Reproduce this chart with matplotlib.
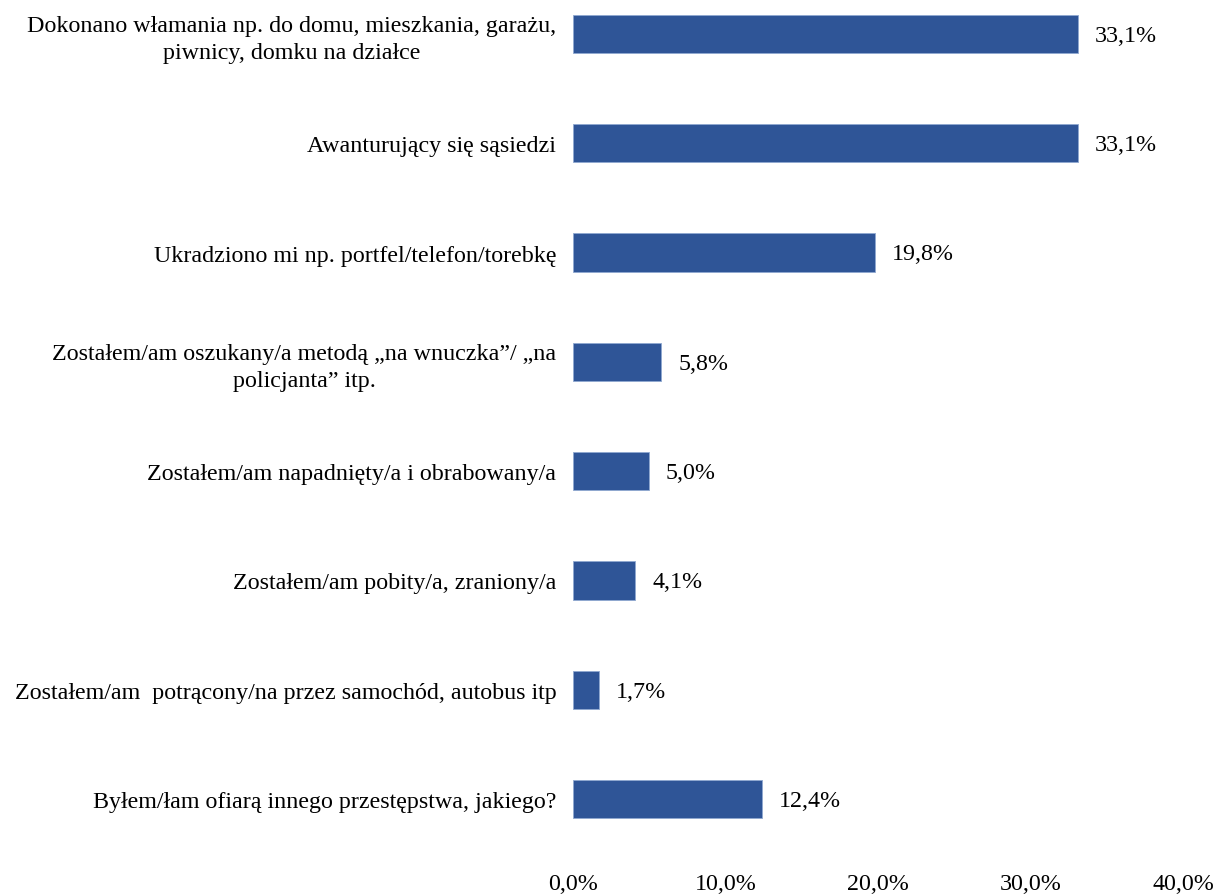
import matplotlib.pyplot as plt

plt.rcParams['font.family'] = ['Liberation Serif', 'DejaVu Serif']

categories = [
    'Dokonano włamania np. do domu, mieszkania, garażu,\npiwnicy, domku na działce',
    'Awanturujący się sąsiedzi',
    'Ukradziono mi np. portfel/telefon/torebkę',
    'Zostałem/am oszukany/a metodą „na wnuczka”/ „na\npolicjanta” itp.',
    'Zostałem/am napadnięty/a i obrabowany/a',
    'Zostałem/am pobity/a, zraniony/a',
    'Zostałem/am  potrącony/na przez samochód, autobus itp',
    'Byłem/łam ofiarą innego przestępstwa, jakiego?',
]
values = [33.1, 33.1, 19.8, 5.8, 5.0, 4.1, 1.7, 12.4]
ticks = [0, 10, 20, 30, 40]

fig = plt.figure(figsize=(12.18, 8.95), dpi=100)
ax = fig.add_axes([0.4704, 0.0328, 0.5009, 0.9672])

pos = list(range(len(categories)))
ax.barh(pos, values, height=0.35, color='#2F5597', edgecolor='#8FA8D0', linewidth=0.6)

for p, v in zip(pos, values):
    ax.annotate(f'{v:.1f}%'.replace('.', ','), (v, p), xytext=(12, -1),
                textcoords='offset points', va='center', ha='left', fontsize=17.3)

ax.set_xlim(0, 40)
ax.set_ylim(7.6, -0.32)
ax.set_xticks(ticks)
ax.set_xticklabels([f'{t:.1f}%'.replace('.', ',') for t in ticks], fontsize=17.3)
ax.set_yticks(pos)
ax.set_yticklabels(categories, fontsize=17.3, multialignment='center', linespacing=1.35)
ax.tick_params(length=0)
ax.tick_params(axis='y', pad=12)
ax.tick_params(axis='x', pad=6)
for s in ax.spines.values():
    s.set_visible(False)

fig.savefig('out.png', dpi=100)
